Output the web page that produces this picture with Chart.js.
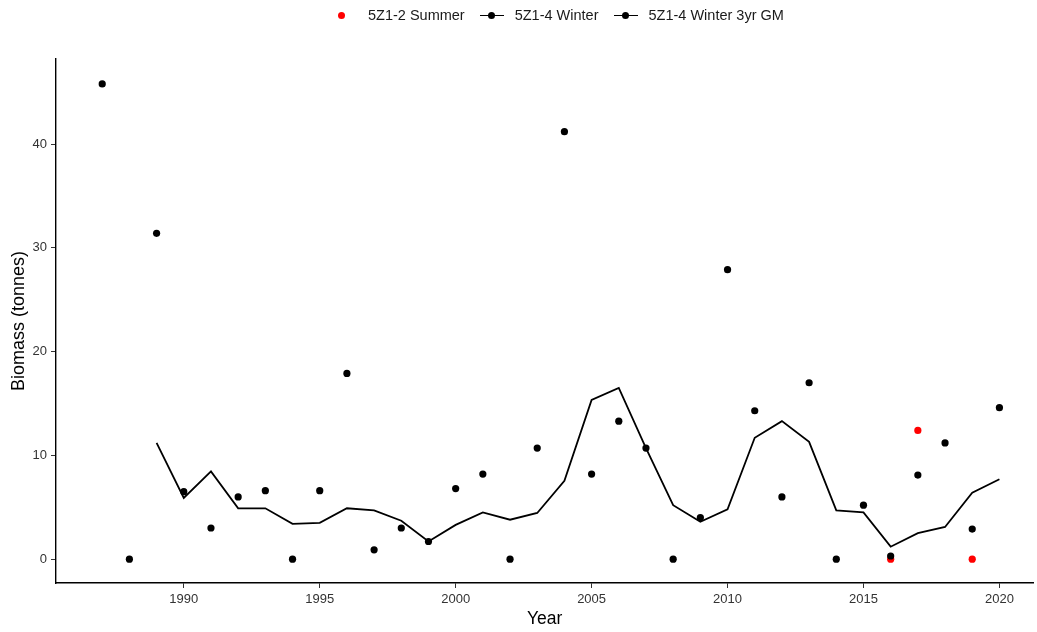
<!DOCTYPE html>
<html>
<head>
<meta charset="utf-8">
<script src="https://cdn.jsdelivr.net/npm/chart.js@4/dist/chart.umd.min.js"></script>
<style>
  html, body { margin: 0; padding: 0; background: #fff; }
  #wrap { position: relative; width: 1037px; height: 632px; }
  #legend { position: absolute; left: 338px; top: 5px; height: 20px; display: flex; align-items: center;
    font-family: "Liberation Sans", Arial, sans-serif; font-size: 14.5px; color: #1a1a1a; }
  #legend .item { display: flex; align-items: center; }
  #legend .dot { width: 7px; height: 7px; border-radius: 50%; display: inline-block; }
  #legend .key { position: relative; width: 24px; height: 7px; display: inline-block; }
  #legend .key .ln { position: absolute; left: 0; right: 0; top: 3px; height: 1.6px; background: #000; }
  #legend .key .pt { position: absolute; left: 8.5px; top: 0; width: 7px; height: 7px; border-radius: 50%; background: #000; }
</style>
</head>
<body>
<div id="wrap">
  <canvas id="chart" width="1037" height="632"></canvas>
  <div id="legend"></div>
</div>
<script>
// 5Z1-4 winter survey biomass, 1987-2020
const winterYears = [1987, 1988, 1989, 1990, 1991, 1992, 1993, 1994, 1995, 1996, 1997, 1998, 1999, 2000, 2001, 2002, 2003,
  2004, 2005, 2006, 2007, 2008, 2009, 2010, 2011, 2012, 2013, 2014, 2015, 2016, 2017, 2018, 2019, 2020];
const winterBiomass = [45.8, 0, 31.4, 6.5, 3.0, 6.0, 6.6, 0, 6.6, 17.9, 0.9, 3.0, 1.7, 6.8, 8.2, 0, 10.7,
  41.2, 8.2, 13.3, 10.7, 0, 4.0, 27.9, 14.3, 6.0, 17.0, 0, 5.2, 0.3, 8.1, 11.2, 2.9, 14.6];

// 5Z1-2 summer survey
const summerYears = [2016, 2017, 2019];
const summerBiomass = [0, 12.4, 0];

// 3 year geometric mean of winter survey
const gmYears = [1989, 1990, 1991, 1992, 1993, 1994, 1995, 1996, 1997, 1998, 1999, 2000, 2001, 2002, 2003, 2004,
  2005, 2006, 2007, 2008, 2009, 2010, 2011, 2012, 2013, 2014, 2015, 2016, 2017, 2018, 2019, 2020];
const gmBiomass = [11.2, 5.9, 8.45, 4.9, 4.9, 3.4, 3.5, 4.9, 4.7, 3.7, 1.7, 3.3, 4.5, 3.8, 4.45, 7.55,
  15.35, 16.5, 10.7, 5.2, 3.6, 4.8, 11.7, 13.3, 11.3, 4.7, 4.5, 1.2, 2.5, 3.1, 6.4, 7.7];

const xTicks = [1990, 1995, 2000, 2005, 2010, 2015, 2020];
const yTicks = [0, 10, 20, 30, 40];

const FONT = '"Liberation Sans", Arial, sans-serif';

function toPoints(xs, ys) {
  return xs.map((x, i) => ({ x: x, y: ys[i] }));
}

// legend (Summer first, as in the figure)
const legendItems = [
  { label: '5Z1-2 Summer', type: 'dot', color: 'red' },
  { label: '5Z1-4 Winter', type: 'key', color: '#000' },
  { label: '5Z1-4 Winter 3yr GM', type: 'key', color: '#000' }
];
const legendEl = document.getElementById('legend');
legendItems.forEach(function (item, index) {
  const div = document.createElement('div');
  div.className = 'item';
  div.style.marginRight = index < legendItems.length - 1 ? '15px' : '0';
  if (item.type === 'dot') {
    div.innerHTML = `<span class="dot" style="background:${item.color}; margin-right: 23px"></span><span>${item.label}</span>`;
  } else {
    div.innerHTML = `<span class="key" style="margin-right: 11px"><span class="ln"></span><span class="pt"></span></span><span>${item.label}</span>`;
  }
  legendEl.appendChild(div);
});

const ctx = document.getElementById('chart').getContext('2d');
new Chart(ctx, {
  type: 'scatter',
  data: {
    datasets: [
      {
        label: '5Z1-4 Winter',
        data: toPoints(winterYears, winterBiomass),
        backgroundColor: '#000',
        borderColor: '#000',
        pointRadius: 3.6,
        pointBorderWidth: 0,
        pointHoverRadius: 3.6
      },
      {
        label: '5Z1-2 Summer',
        data: toPoints(summerYears, summerBiomass),
        backgroundColor: 'red',
        borderColor: 'red',
        pointRadius: 3.6,
        pointBorderWidth: 0,
        pointHoverRadius: 3.6
      },
      {
        label: '5Z1-4 Winter 3yr GM',
        data: toPoints(gmYears, gmBiomass),
        showLine: true,
        borderColor: '#000',
        borderWidth: 1.8,
        pointRadius: 0,
        pointHoverRadius: 0,
        tension: 0
      }
    ]
  },
  options: {
    responsive: false,
    animation: false,
    layout: { padding: { top: 59, right: 0, bottom: 0, left: 0 } },
    plugins: {
      legend: { display: false },
      tooltip: { enabled: false }
    },
    scales: {
      x: {
        type: 'linear',
        min: 1985.3,
        max: 2021.25,
        afterBuildTicks: function (scale) {
          scale.ticks = xTicks.map(v => ({ value: v }));
        },
        afterFit: function (scale) { scale.height = 49; },
        ticks: {
          autoSkip: false,
          maxRotation: 0,
          padding: 4,
          color: '#333',
          font: { family: FONT, size: 13 },
          callback: v => String(v)
        },
        grid: { drawOnChartArea: false, drawTicks: true, tickLength: 5, color: '#333', lineWidth: 1 },
        border: { display: true, color: '#000', width: 1.4 },
        title: {
          display: true,
          text: 'Year',
          color: '#000',
          font: { family: FONT, size: 17.5 },
          padding: { top: 0, bottom: 2 }
        }
      },
      y: {
        type: 'linear',
        min: -2.3,
        max: 48.2,
        afterBuildTicks: function (scale) {
          scale.ticks = yTicks.map(v => ({ value: v }));
        },
        afterFit: function (scale) { scale.width = 56; },
        ticks: {
          padding: 4,
          color: '#333',
          font: { family: FONT, size: 13 }
        },
        grid: { drawOnChartArea: false, drawTicks: true, tickLength: 5, color: '#333', lineWidth: 1 },
        border: { display: true, color: '#000', width: 1.4 },
        title: {
          display: true,
          text: 'Biomass (tonnes)',
          color: '#000',
          font: { family: FONT, size: 18 },
          padding: { top: 8, bottom: 0 }
        }
      }
    }
  }
});
</script>
</body>
</html>
